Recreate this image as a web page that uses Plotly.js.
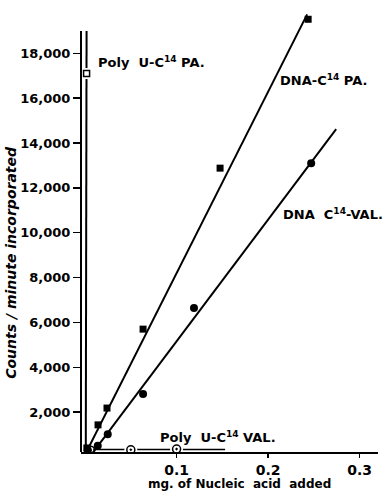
<!DOCTYPE html>
<html>
<head>
<meta charset="utf-8">
<script src="https://cdn.plot.ly/plotly-3.0.1.min.js"></script>
<style>html,body{margin:0;padding:0;background:#fff;}#chart{width:387px;height:493px;}</style>
</head>
<body>
<div id="chart"></div>
<script>
// ---- data ----
const dnaPA_x = [0.002, 0.0142, 0.024, 0.0634, 0.1475, 0.2437];
const dnaPA_y = [400, 1430, 2180, 5700, 12880, 19520];
const dnaVAL_x = [0.003, 0.0139, 0.0248, 0.0634, 0.119, 0.247];
const dnaVAL_y = [300, 500, 1010, 2810, 6640, 13100];
const polyPA_x = [0.0017];
const polyPA_y = [17100];
const polyVAL_x = [0.006, 0.050, 0.100];
const polyVAL_y = [300, 320, 350];

// fitted lines (end points)
const fitPA_x = [0, 0.2426];
const fitPA_y = [100, 19740];
const fitVAL_x = [0.005, 0.2743];
const fitVAL_y = [0, 14620];
const fitPolyPA_x = [0.0008, 0.0017];
const fitPolyPA_y = [0, 19000];
const fitPolyVAL_x = [0.009, 0.153];
const fitPolyVAL_y = [330, 330];

const yTicks = [2000, 4000, 6000, 8000, 10000, 12000, 14000, 16000, 18000];
const yTickText = ['2,000', '4,000', '6,000', '8,000', '10,000', '12,000', '14,000', '16,000', '18,000'];
const xTicks = [0.1, 0.2, 0.3];
const xTickText = ['0.1', '0.2', '0.3'];

const FONT = 'DejaVu Sans, sans-serif';
const line = (x, y, w, dash) => ({x, y, mode: 'lines', type: 'scatter', hoverinfo: 'skip',
  line: {color: '#000', width: w, dash: dash || 'solid'}, showlegend: false});

const traces = [
  line(fitPA_x, fitPA_y, 2),
  line(fitVAL_x, fitVAL_y, 2),
  line(fitPolyPA_x, fitPolyPA_y, 2),
  line(fitPolyVAL_x, fitPolyVAL_y, 1.6),
  // white backing to break lines around open markers
  {x: polyVAL_x.slice(1), y: polyVAL_y.slice(1), mode: 'markers', type: 'scatter', showlegend: false,
   marker: {symbol: 'circle', size: 13, color: '#fff'}},
  {x: polyPA_x, y: polyPA_y, mode: 'markers', type: 'scatter', showlegend: false,
   marker: {symbol: 'square', size: 11, color: '#fff'}},
  {x: dnaPA_x, y: dnaPA_y, mode: 'markers', type: 'scatter', showlegend: false,
   marker: {symbol: 'square', size: 7, color: '#000'}},
  {x: dnaVAL_x, y: dnaVAL_y, mode: 'markers', type: 'scatter', showlegend: false,
   marker: {symbol: 'circle', size: 8, color: '#000'}},
  {x: polyPA_x, y: polyPA_y, mode: 'markers', type: 'scatter', showlegend: false,
   marker: {symbol: 'square-open', size: 6, color: '#000', line: {width: 1.5}}},
  {x: polyVAL_x, y: polyVAL_y, mode: 'markers', type: 'scatter', showlegend: false,
   marker: {symbol: 'circle-open-dot', size: 8, color: '#000', line: {width: 1.5}}}
];

const ann = (x, y, text) => ({x, y, xref: 'x', yref: 'y', text: '<b>' + text + '</b>', showarrow: false,
  xanchor: 'left', yanchor: 'middle', font: {family: FONT, size: 13, color: '#000'}});

const layout = {
  width: 387, height: 493,
  margin: {l: 81, r: 9, t: 13, b: 41},
  paper_bgcolor: '#fff', plot_bgcolor: '#fff',
  showlegend: false,
  xaxis: {range: [-0.0044, 0.320], showgrid: false, zeroline: false,
    showline: true, linecolor: '#000', linewidth: 2,
    ticks: 'outside', ticklen: 4, tickwidth: 1.5, tickcolor: '#000',
    tickvals: xTicks, ticktext: xTickText.map(t => '<b>' + t + '</b>'),
    tickfont: {family: FONT, size: 14, color: '#000'}},
  yaxis: {range: [220, 19800], showgrid: false, zeroline: false, showline: false,
    ticks: 'outside', ticklen: 7, tickwidth: 1.5, tickcolor: '#000',
    tickvals: yTicks, ticktext: yTickText.map(t => '<b>' + t + '</b>'),
    tickfont: {family: FONT, size: 13, color: '#000'}},
  shapes: [
    {type: 'line', xref: 'paper', yref: 'y', x0: 0, x1: 0, y0: 220, y1: 19000,
     line: {color: '#000', width: 2}}
  ],
  annotations: [
    ann(0.012, 17600, 'Poly  U-C<sup>14</sup> PA.'),
    ann(0.211, 16800, 'DNA-C<sup>14</sup> PA.'),
    ann(0.214, 10830, 'DNA  C<sup>14</sup>-VAL.'),
    ann(0.080, 890, 'Poly  U-C<sup>14</sup> VAL.'),
    {xref: 'paper', yref: 'paper', x: -0.236, y: 0.433, text: '<b><i>Counts / minute incorporated</i></b>',
     textangle: -90, showarrow: false, xanchor: 'center', yanchor: 'middle',
     font: {family: FONT, size: 14, color: '#000'}},
    {xref: 'paper', yref: 'paper', x: 0.535, y: -0.072, text: '<b>mg. of Nucleic  acid  added</b>',
     showarrow: false, xanchor: 'center', yanchor: 'middle',
     font: {family: FONT, size: 12, color: '#000'}}
  ]
};

Plotly.newPlot('chart', traces, layout, {displayModeBar: false, staticPlot: true});
</script>
</body>
</html>
